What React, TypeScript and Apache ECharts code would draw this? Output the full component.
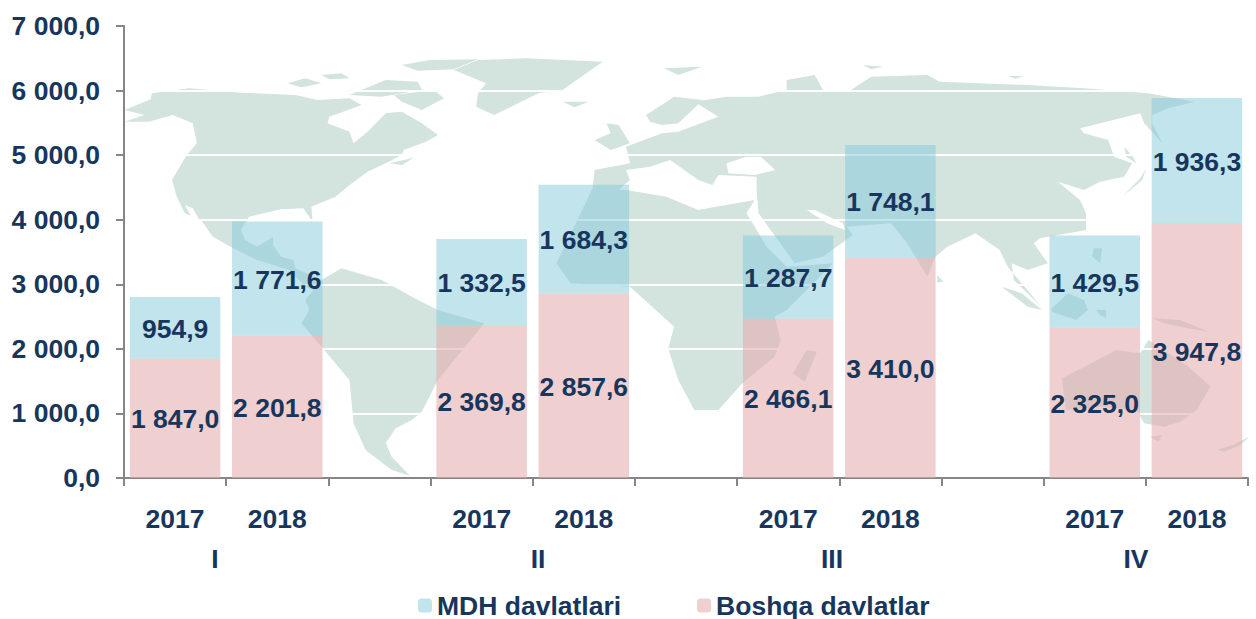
import React, { useEffect, useRef } from "react";
import * as echarts from "echarts";

const categories = ["2017", "2018", "", "2017", "2018", "", "2017", "2018", "", "2017", "2018"];
const mdhValues = [954.9, 1771.6, null, 1332.5, 1684.3, null, 1287.7, 1748.1, null, 1429.5, 1936.3];
const otherValues = [1847.0, 2201.8, null, 2369.8, 2857.6, null, 2466.1, 3410.0, null, 2325.0, 3947.8];
const quarters = [
  { text: "I", x: 215 },
  { text: "II", x: 538 },
  { text: "III", x: 832 },
  { text: "IV", x: 1136 },
];

const NAVY = "#17365d";
const FONT = '"Liberation Sans", Arial, sans-serif';
const LAND = "#d3e3de";
const SIZE = 26.5;

type P = number[];
// Background map outlines, traced in crop coordinates of the four picture quadrants.
const A = (l: P[]) => l.map(([x, y]) => [x / 2.489, y / 3]);
const B = (l: P[]) => l.map(([x, y]) => [626 + x / 2.489, y / 3]);
const C = (l: P[]) => l.map(([x, y]) => [x / 2.489, 310 + y / 3]);
const D = (l: P[]) => l.map(([x, y]) => [626 + x / 2.489, 310 + y / 3]);

const landShapes: number[][][] = [
  // North & Central America
  A([[310,365],[360,345],[310,330],[375,298],[378,280],[470,265],[600,278],[735,285],[790,300],[870,295],[900,315],[820,350],[815,370],[870,395],[880,430],[915,395],[960,340],[1000,335],[1050,370],[1090,405],[1060,425],[1005,450],[1000,465],[960,490],[915,515],[870,555],[835,590],[775,620],[778,665],[755,625],[700,628],[620,650],[600,690],[610,720],[640,740],[680,710],[680,735],[700,770],[730,780],[735,805],[800,840],[800,880],[760,860],[720,810],[640,780],[580,745],[530,710],[500,660],[460,640],[440,590],[428,540],[465,465],[490,430],[480,370],[430,345],[370,365]]),
  // Greenland, Iceland, Arctic islands
  A([[1130,210],[1190,180],[1310,175],[1500,185],[1400,270],[1340,280],[1230,345],[1185,320],[1190,280],[1210,250]]),
  A([[1400,305],[1465,305],[1430,322]]),
  A([[715,250],[760,235],[800,250],[750,262]]),
  A([[870,285],[960,240],[1040,245],[1050,270],[950,290]]),
  A([[980,285],[1080,270],[1105,295],[1050,330],[1000,305]]),
  A([[1000,195],[1070,180],[1190,178],[1130,208],[1040,212]]),
  A([[800,225],[850,220],[870,235],[820,238]]),
  A([[970,490],[1030,473],[1000,495]]),
  // South America
  [...C([[750,40],[770,0]]), ...A([[760,900],[800,840],[850,805],[950,840],[1040,900],[1090,930]]), ...C([[1205,40],[1090,210],[1050,305],[1025,330],[985,355],[960,400],[975,440],[1020,497],[975,480],[910,420],[880,340],[870,210],[800,110]])],
  // Africa
  [...A([[1475,565],[1385,790],[1420,850]]), ...A([[1568,860]]), ...D([[120,50],[105,115],[130,210],[170,300],[230,300],[290,220],[370,140],[385,90],[370,20]]), ...B([[400,930],[516,790],[400,800],[350,740],[300,640],[320,600],[180,630],[100,590],[0,570]])],
  // Eurasia
  [...A([[1480,510],[1568,490]]), ...B([[0,440],[90,400],[130,395],[230,350],[170,305],[250,290],[330,290],[400,270],[400,240],[470,225],[490,270],[560,270],[610,230],[750,225],[780,245],[1000,255],[1140,265],[1300,280],[1415,305],[1350,325],[1310,345],[1310,370],[1335,430],[1290,370],[1280,340],[1130,385],[1140,400],[1200,420],[1215,470],[1260,490],[1240,530],[1180,545],[1140,570],[1075,545],[1130,600],[1145,640],[1145,690],[1030,715],[1015,730],[1050,790],[1000,810],[960,790],[965,840],[1030,915],[950,800],[930,750],[870,700],[800,740],[770,770],[750,830],[700,730],[660,670],[550,680],[565,705],[490,770],[420,790],[330,640],[325,570],[325,530],[230,525],[215,555],[180,540],[110,480],[60,500],[0,510]]), ...A([[1568,540],[1530,580],[1475,565]])],
  // Scandinavia
  B([[50,345],[120,290],[190,300],[170,325],[130,370],[90,375],[60,365]]),
  // Britain, Arctic Russia, Japan, Sakhalin
  A([[1480,420],[1520,400],[1510,370],[1540,375],[1568,430],[1520,450]]),
  B([[95,205],[190,200],[130,225]]),
  B([[590,195],[640,200],[610,208]]),
  B([[950,228],[990,228],[970,236]]),
  B([[1215,610],[1285,540],[1295,505],[1280,535],[1235,590]]),
  B([[1240,440],[1262,470],[1270,490],[1245,470]]),
  // Madagascar
  D([[415,190],[450,120],[475,125],[445,215]]),
  // South-East Asia & Oceania
  B([[935,860],[985,880],[1035,930],[1000,920]]),
  B([[775,825],[790,845],[775,848]]),
  [...B([[1060,925],[1100,880],[1140,900],[1150,930]]), ...D([[1120,30],[1060,5]])],
  B([[1165,745],[1185,745],[1180,790],[1160,770]]),
  D([[1170,0],[1195,0],[1195,25],[1180,15]]),
  D([[1100,0],[1140,0],[1130,15],[1100,15]]),
  D([[1310,25],[1380,30],[1450,65],[1400,55],[1340,40]]),
  D([[1085,205],[1150,165],[1220,120],[1280,130],[1300,90],[1350,130],[1400,170],[1455,230],[1420,300],[1380,335],[1340,350],[1290,340],[1270,300],[1180,290],[1095,300]]),
  D([[1305,380],[1335,375],[1325,395]]),
  D([[1470,420],[1510,405],[1551,380],[1530,405],[1490,425]]),
];

const seaShapes: number[][][] = [
  // Black Sea, Persian Gulf, Gulf of California
  B([[250,490],[300,470],[335,470],[372,510],[320,525],[255,520]]),
  B([[450,630],[470,630],[540,670],[545,690],[500,670]]),
  A([[460,615],[480,625],[525,720],[490,680]]),
];

function fmt(v: number | null): string {
  if (v == null) return "";
  const [i, d] = v.toFixed(1).split(".");
  return i.replace(/\B(?=(\d{3})+$)/g, " ") + "," + d;
}

export default function App() {
  const ref = useRef<HTMLDivElement>(null);

  useEffect(() => {
    const chart = echarts.init(ref.current!, null, { renderer: "svg" });
    const labelOpt = {
      show: true,
      position: "inside" as const,
      offset: [0, 1],
      color: NAVY,
      fontFamily: FONT,
      fontSize: SIZE,
      fontWeight: "bold" as const,
      formatter: (p: any) => fmt(p.value),
    };
    chart.setOption({
      animation: false,
      backgroundColor: "#ffffff",
      textStyle: { fontFamily: FONT },
      grid: { left: 124, right: 8, top: 26, bottom: 141, containLabel: false },
      legend: {
        left: 413,
        top: 587,
        itemWidth: 14,
        itemHeight: 14,
        itemGap: 76,
        data: ["MDH davlatlari", "Boshqa davlatlar"],
        textStyle: { color: NAVY, fontFamily: FONT, fontSize: SIZE, fontWeight: "bold" },
      },
      xAxis: {
        type: "category",
        data: categories,
        axisLine: { lineStyle: { color: "#868686", width: 2 } },
        axisTick: { show: true, length: 8, alignWithLabel: false, lineStyle: { color: "#868686", width: 2 } },
        axisLabel: { interval: 0, color: NAVY, fontFamily: FONT, fontSize: SIZE, fontWeight: "bold", margin: 27 },
      },
      yAxis: {
        type: "value",
        min: 0,
        max: 7000,
        interval: 1000,
        axisLine: { show: true, lineStyle: { color: "#868686", width: 2 } },
        axisTick: { show: true, length: 8, lineStyle: { color: "#868686", width: 2 } },
        axisLabel: { color: NAVY, fontFamily: FONT, fontSize: SIZE, fontWeight: "bold", margin: 24, formatter: (v: number) => fmt(v) },
        splitLine: { show: true, lineStyle: { color: "#ffffff", width: 2 } },
      },
      series: [
        {
          name: "Boshqa davlatlar",
          type: "bar",
          stack: "total",
          barWidth: 90.5,
          data: otherValues,
          itemStyle: { color: "rgba(228,175,177,0.6)" },
          label: labelOpt,
        },
        {
          name: "MDH davlatlari",
          type: "bar",
          stack: "total",
          barWidth: 90.5,
          data: mdhValues,
          itemStyle: { color: "rgba(133,201,219,0.5)" },
          label: labelOpt,
        },
      ],
      graphic: {
        z: -1,
        elements: [
          ...landShapes.map((points) => ({
            type: "polygon",
            silent: true,
            shape: { points },
            style: { fill: LAND },
          })),
          ...seaShapes.map((points) => ({
            type: "polygon",
            silent: true,
            shape: { points },
            style: { fill: "#ffffff" },
          })),
          ...quarters.map((q) => ({
            type: "text",
            silent: true,
            x: q.x,
            y: 559,
            style: {
              text: q.text,
              fill: NAVY,
              font: `bold ${SIZE}px ${FONT}`,
              textAlign: "center",
              textVerticalAlign: "middle",
            },
          })),
        ],
      },
    });
    return () => chart.dispose();
  }, []);

  return <div ref={ref} style={{ position: "fixed", left: 0, top: 0, width: 1256, height: 619 }} />;
}
